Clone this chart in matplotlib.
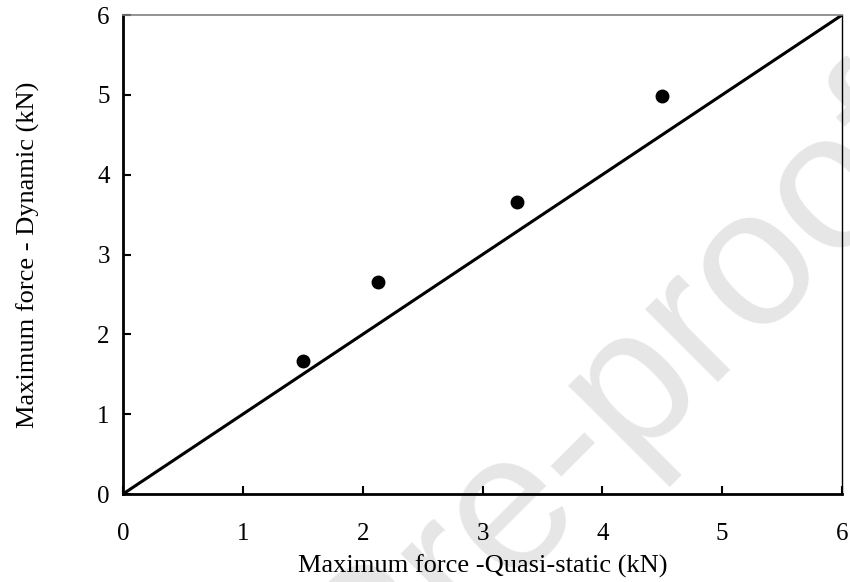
import numpy as np
import matplotlib
matplotlib.use("Agg")
import matplotlib.pyplot as plt

plt.rcParams['font.family'] = ['Liberation Serif', 'DejaVu Serif']

# maximum force, quasi-static vs dynamic (kN)
quasi_static = [1.50, 2.13, 3.29, 4.50]
dynamic = [1.66, 2.66, 3.66, 4.99]
ticks = [0, 1, 2, 3, 4, 5, 6]

fig = plt.figure(figsize=(8.5, 5.82), dpi=100)
ax = fig.add_axes([0.1447, 0.1512, 0.8459, 0.8230])

# journal watermark behind the plot (drawn before the axes)
fig.text(0.488, -0.177, "Journal Pre-proof", family="Liberation Sans",
         fontsize=140, color="#e6e6e6", rotation=45, rotation_mode="anchor",
         ha="center", va="baseline", zorder=-1)
ax.patch.set_alpha(0)

# 1:1 reference line
ax.plot([0, 6], [0, 6], color="black", lw=2.2, solid_capstyle="butt", zorder=2)
ax.plot(quasi_static, dynamic, "o", color="black", ms=9, zorder=3)

ax.set_xlim(0, 6)
ax.set_ylim(0, 6)
ax.set_xticks(ticks)
ax.set_yticks(ticks)
ax.tick_params(axis="x", direction="in", length=6, width=1.5, labelsize=18, pad=21)
ax.tick_params(axis="y", direction="in", length=6, width=1.5, labelsize=18, pad=9.5)

ax.spines["left"].set_linewidth(2)
ax.spines["bottom"].set_linewidth(2)
ax.spines["right"].set_linewidth(1)
ax.spines["top"].set_linewidth(1.2)
ax.spines["top"].set_color("#808080")

ax.set_xlabel("Maximum force -Quasi-static (kN)", fontsize=19, labelpad=7)
ax.set_ylabel("Maximum force - Dynamic (kN)", fontsize=19, labelpad=41)

fig.savefig("out.png", dpi=100)
